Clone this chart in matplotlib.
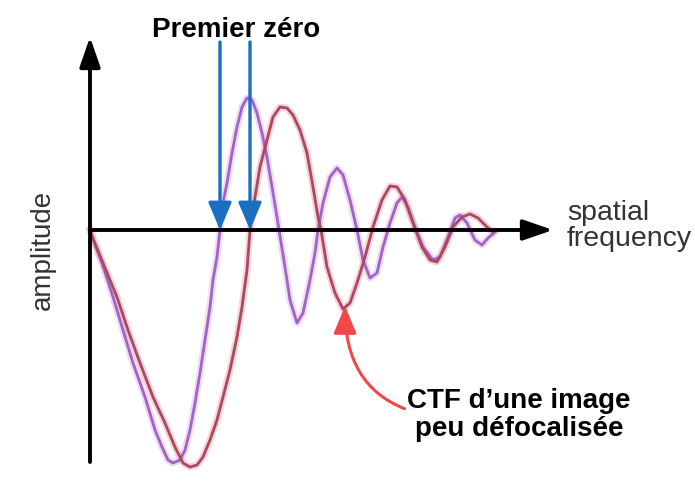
"""CTF curves with first-zero markers."""

import matplotlib
matplotlib.use("Agg")
import matplotlib.pyplot as plt

# curves: x = spatial frequency, y = amplitude (picture units)
purple_x = [0, 4, 12, 23, 33, 43, 55, 65, 72, 78, 83, 90, 95, 100, 105, 110,
            115, 120, 123, 127, 130, 133, 137, 142, 147, 152, 157, 162, 167,
            172, 177, 182, 187, 189, 195, 200, 207, 213, 220, 225, 228, 233,
            240, 247, 253, 260, 267, 273, 280, 287, 293, 300, 307, 312, 318,
            325, 333, 343, 350, 358, 365, 370, 377, 385, 392, 398, 405]
purple_y = [0, -12, -33, -67, -100, -133, -167, -200, -217, -230, -233,
            -230, -220, -200, -173, -143, -110, -77, -50, -27, 0, 27, 47, 77,
            103, 123, 132, 130, 117, 97, 73, 43, 13, 0, -37, -70, -93, -83,
            -50, -23, 0, 27, 53, 62, 55, 30, 0, -30, -48, -43, -17, 7, 27, 33,
            23, 3, -17, -30, -27, -7, 12, 15, 7, -10, -15, -8, -2]

red_x = [0, 4, 13, 27, 38, 50, 63, 75, 85, 93, 100, 107, 113, 120, 127, 133,
         140, 147, 152, 157, 160, 165, 170, 177, 183, 190, 197, 203, 210, 217,
         223, 228, 231, 237, 245, 253, 260, 267, 275, 283, 292, 300, 307, 315,
         323, 332, 340, 347, 355, 363, 372, 380, 388, 397, 403]
red_y = [0, -11, -33, -67, -100, -133, -167, -193, -217, -233, -237, -235,
         -227, -210, -190, -167, -140, -107, -77, -40, 0, 33, 63, 90, 113,
         123, 122, 115, 100, 77, 43, 13, 0, -37, -63, -79, -73, -53, -27, 3,
         30, 44, 43, 30, 7, -17, -30, -32, -17, 3, 13, 16, 12, 3, -2]

# positions of the two first zeros
first_zeros = [130, 160]
zero_label = "Premier zéro"
ctf_label = "CTF d\u2019une image\npeu défocalisée"
red_min = (255, -76)

fig = plt.figure(figsize=(6.95, 4.86), dpi=100)
ax = fig.add_axes([0, 0, 1, 1])
ax.set_xlim(-90, 605)
ax.set_ylim(-256, 230)
ax.axis("off")

# soft halo + core to mimic the blurry scan
ax.plot(purple_x, purple_y, color="#f0b8f0", lw=5, alpha=0.55,
        solid_joinstyle="round", zorder=2)
ax.plot(red_x, red_y, color="#f4b0c0", lw=5, alpha=0.55,
        solid_joinstyle="round", zorder=2)
ax.plot(purple_x, purple_y, color="#9a66c8", lw=2,
        solid_joinstyle="round", zorder=3)
ax.plot(red_x, red_y, color="#a84a5c", lw=2,
        solid_joinstyle="round", zorder=3)

# axes with arrows
axis_arrow = dict(arrowstyle="-|>,head_length=1.3,head_width=0.45",
                  color="black", lw=2.8, mutation_scale=14, shrinkA=0,
                  shrinkB=0)
ax.annotate("", xy=(0, 193), xytext=(0, -232), arrowprops=axis_arrow,
            zorder=4)
ax.annotate("", xy=(463, 0), xytext=(0, 0), arrowprops=axis_arrow,
            zorder=4)

ax.text(-47, -20, "amplitude", rotation=90, ha="center", va="center",
        fontsize=20, color="#333333", family="Liberation Sans")
ax.text(477, 4, "spatial\nfrequency", ha="left", va="center",
        fontsize=20.5, color="#333333", family="Liberation Sans",
        linespacing=1.05)

# blue arrows to first zeros
blue_arrow = dict(arrowstyle="-|>,head_length=1.3,head_width=0.55",
                  color="#1a6fc0", lw=2.4, mutation_scale=13, shrinkA=0,
                  shrinkB=0)
for z in first_zeros:
    ax.annotate("", xy=(z, 0), xytext=(z, 188), arrowprops=blue_arrow,
                zorder=5)
ax.text(146, 200, zero_label, ha="center", va="center", fontsize=20,
        fontweight="bold", family="Liberation Sans")

# red curved arrow to the red minimum
ax.annotate(ctf_label, xy=red_min, xytext=(429, -185), ha="center",
            va="center", fontsize=20, fontweight="bold",
            family="Liberation Sans", linespacing=1.05,
            arrowprops=dict(arrowstyle="-|>,head_length=1.2,head_width=0.5",
                            color="#f04848", lw=2.2, mutation_scale=14,
                            shrinkA=0, shrinkB=0,
                            connectionstyle="angle3,angleA=160,angleB=90",
                            relpos=(0, 0.6)),
            zorder=5)

fig.savefig("out.png", dpi=100)
